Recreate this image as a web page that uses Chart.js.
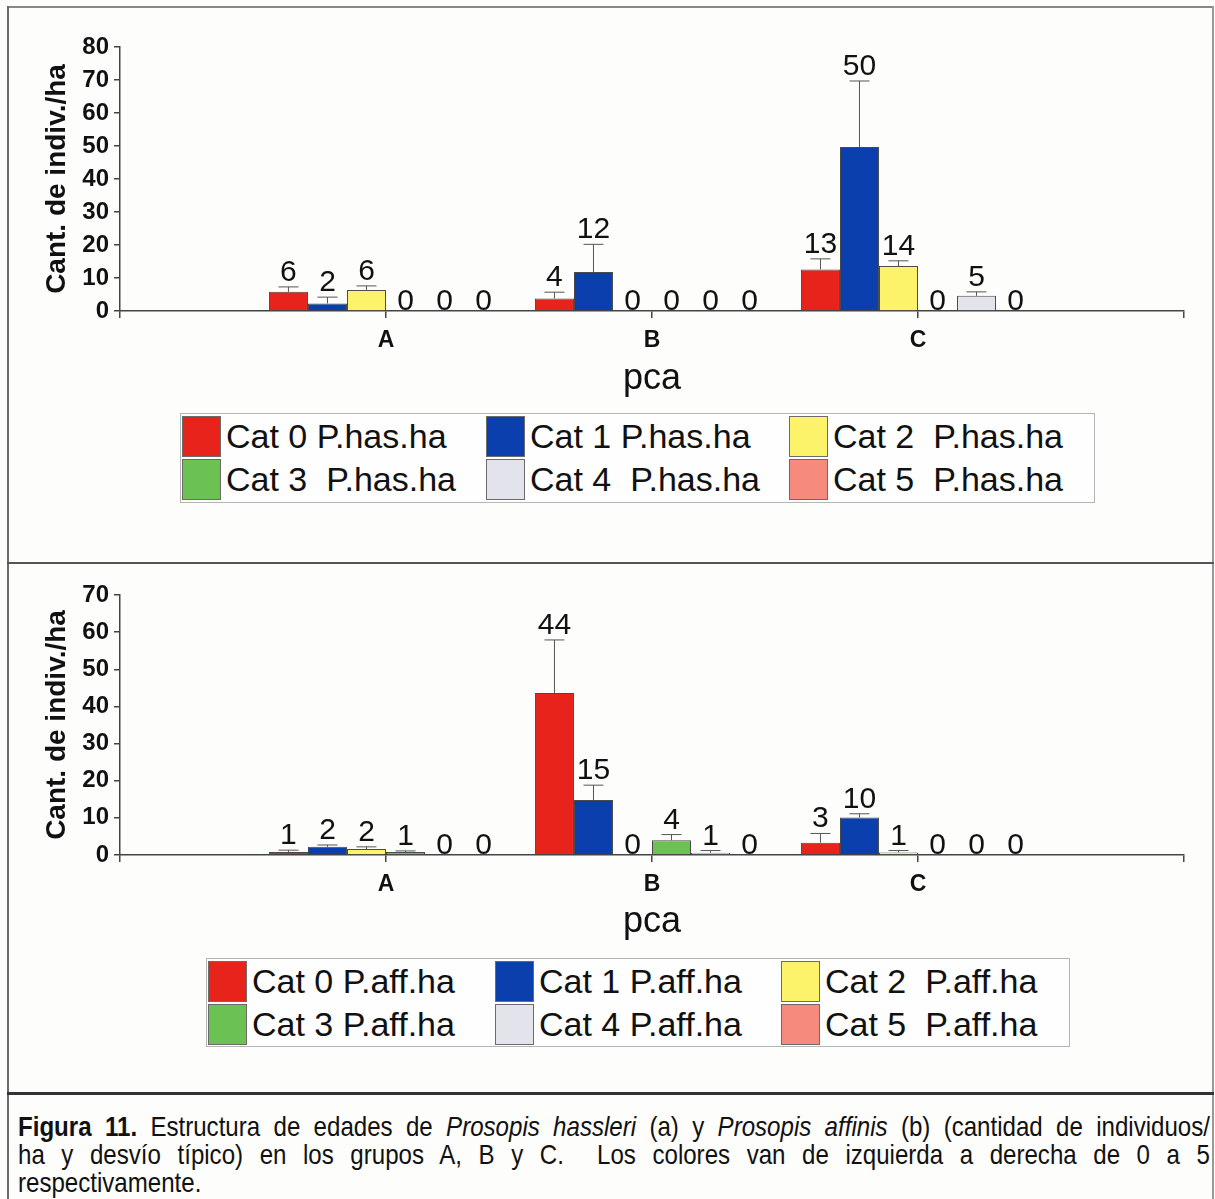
<!DOCTYPE html>
<html lang="es">
<head>
<meta charset="utf-8">
<title>Figura 11</title>
<script src="https://cdn.jsdelivr.net/npm/chart.js@4.4.1/dist/chart.umd.min.js"></script>
<style>
  body { margin: 0; background: #fdfdfb; }
  #figura { position: relative; width: 1215px; height: 1199px; overflow: hidden; font-family: "Liberation Sans", Arial, sans-serif; color: #111; }
  .linea { position: absolute; background: #6a6a6a; }
  canvas { position: absolute; left: 0; }
  .leyenda { position: absolute; border: 1px solid #b5b5b5; box-sizing: border-box; background: #fefefe; }
  .item { position: absolute; height: 41px; display: flex; align-items: center; font-size: 34px; white-space: pre; }
  .muestra { width: 39px; height: 41px; box-sizing: border-box; border: 1px solid #6b6b6b; margin-right: 5px; }
  #pie { position: absolute; left: 18px; top: 1113px; width: 1386px; transform: scaleX(0.86); transform-origin: 0 0; font-size: 28px; }
  .renglon { height: 28px; line-height: 28px; text-align: justify; text-align-last: justify; white-space: nowrap; }
  .renglon.ultimo { text-align-last: left; }
</style>
</head>
<body>
<div id="figura">
  <div class="linea" style="left:7px; top:6px; width:1207px; height:2px; background:#888;"></div>
  <div class="linea" style="left:7px; top:6px; width:2px; height:1193px;"></div>
  <div class="linea" style="left:1212px; top:6px; width:2px; height:1193px; background:#999;"></div>
  <div class="linea" style="left:7px; top:562px; width:1207px; height:2px; background:#555;"></div>
  <div class="linea" style="left:7px; top:1092px; width:1207px; height:3px; background:#333;"></div>

  <canvas id="graficoHas" width="1215" height="400" style="top:10px;"></canvas>
  <div class="leyenda" id="leyendaHas" style="left:180px; top:413px; width:915px; height:90px;"></div>

  <canvas id="graficoAff" width="1215" height="380" style="top:570px;"></canvas>
  <div class="leyenda" id="leyendaAff" style="left:206px; top:958px; width:864px; height:89px;"></div>

  <div id="pie">
    <div class="renglon"><b>Figura 11.</b> Estructura de edades de <i>Prosopis hassleri</i> (a) y <i>Prosopis affinis</i> (b) (cantidad de individuos/</div>
    <div class="renglon">ha y desvío típico) en los grupos A, B y C.&nbsp; Los colores van de izquierda a derecha de 0 a 5</div>
    <div class="renglon ultimo">respectivamente.</div>
  </div>
</div>

<script>
const grupos = ["", "A", "B", "C", ""];
const colores = ["#e8231b", "#0c3fae", "#fdf36a", "#6cc153", "#e3e3eb", "#f68a7c"];

const seriesHas = ["Cat 0 P.has.ha", "Cat 1 P.has.ha", "Cat 2  P.has.ha", "Cat 3  P.has.ha", "Cat 4  P.has.ha", "Cat 5  P.has.ha"];
const seriesAff = ["Cat 0 P.aff.ha", "Cat 1 P.aff.ha", "Cat 2  P.aff.ha", "Cat 3 P.aff.ha", "Cat 4 P.aff.ha", "Cat 5  P.aff.ha"];

// P. hassleri: media por grupo (cat 0 a 5) y desvio tipico
const hasA = [5.8, 2.3, 6.4, 0, 0, 0];
const hasB = [3.8, 11.8, 0, 0, 0, 0];
const hasC = [12.6, 49.7, 13.6, 0, 4.6, 0];
const hasDesvA = [1.5, 1.9, 1.2, 0, 0, 0];
const hasDesvB = [1.9, 8.4, 0, 0, 0, 0];
const hasDesvC = [3.2, 20, 1.6, 0, 1.2, 0];

// P. affinis
const affA = [0.8, 2.2, 1.6, 0.8, 0, 0];
const affB = [43.6, 14.8, 0, 4.0, 0.6, 0];
const affC = [3.3, 10.1, 0.7, 0, 0, 0];
const affDesvA = [0.5, 0.5, 0.6, 0.3, 0, 0];
const affDesvB = [14.3, 4.0, 0, 1.5, 0.6, 0];
const affDesvC = [2.5, 1.0, 0.5, 0, 0, 0];

const ejeHas = [0, 80, 10]; // min, max, paso
const ejeAff = [0, 70, 10];

const fuente = "'Liberation Sans', Arial, sans-serif";

const barrasError = {
  id: "barrasError",
  afterDatasetsDraw: function (chart) {
    const ctx = chart.ctx;
    const escalaY = chart.scales.y;
    ctx.save();
    chart.data.datasets.forEach(function (ds, i) {
      const meta = chart.getDatasetMeta(i);
      meta.data.forEach(function (barra, j) {
        const valor = ds.data[j];
        if (valor === null) return;
        const desvio = ds.desvio[j];
        const yTope = escalaY.getPixelForValue(valor + desvio);
        let separacion = 1;
        if (desvio > 0) {
          ctx.strokeStyle = "#555";
          ctx.lineWidth = 1;
          ctx.beginPath();
          ctx.moveTo(barra.x, barra.y);
          ctx.lineTo(barra.x, yTope);
          ctx.moveTo(barra.x - 10, yTope);
          ctx.lineTo(barra.x + 10, yTope);
          ctx.stroke();
          separacion = 6;
        }
        ctx.fillStyle = "#111";
        ctx.font = "30px " + fuente;
        ctx.textAlign = "center";
        ctx.textBaseline = "alphabetic";
        ctx.fillText(String(Math.round(valor)), barra.x, yTope - separacion);
      });
    });
    ctx.restore();
  }
};

function armarDatasets(series, a, b, c, desvA, desvB, desvC) {
  return series.map(function (nombre, i) {
    return {
      label: nombre,
      data: [null, a[i], b[i], c[i], null],
      desvio: [0, desvA[i], desvB[i], desvC[i], 0],
      backgroundColor: colores[i],
      borderColor: "#4a4a4a",
      borderWidth: 1,
      barPercentage: 1,
      categoryPercentage: 0.88
    };
  });
}

function crearGrafico(idCanvas, datasets, eje, margenArriba, altoEjeX, margenPca) {
  new Chart(document.getElementById(idCanvas), {
    type: "bar",
    plugins: [barrasError],
    data: { labels: grupos, datasets: datasets },
    options: {
      responsive: false,
      animation: false,
      layout: { padding: { top: margenArriba, right: 31, left: 0, bottom: 0 } },
      plugins: { legend: { display: false }, tooltip: { enabled: false } },
      scales: {
        x: {
          type: "category",
          offset: false,
          grid: { offset: false, drawOnChartArea: false, drawTicks: true, tickLength: 7, color: "#444", lineWidth: 1.5 },
          border: { display: true, color: "#444", width: 1.5 },
          ticks: { color: "#111", font: { family: fuente, size: 23, weight: "bold" }, padding: 9, maxRotation: 0, autoSkip: false },
          title: { display: true, text: "pca", color: "#111", font: { family: fuente, size: 36 }, padding: { top: 0, bottom: margenPca } },
          afterFit: function (escala) { escala.height = altoEjeX; }
        },
        y: {
          min: eje[0],
          max: eje[1],
          ticks: { stepSize: eje[2], color: "#111", font: { family: fuente, size: 24, weight: "bold" }, padding: 5 },
          grid: { drawOnChartArea: false, tickLength: 6, color: "#444", lineWidth: 1.5 },
          border: { display: true, color: "#444", width: 1.5 },
          title: { display: true, text: "Cant. de indiv./ha", color: "#111", font: { family: fuente, size: 28, weight: "bold" }, padding: { top: 40, bottom: 0 } },
          afterFit: function (escala) { escala.width = 120; }
        }
      }
    }
  });
}

function crearLeyenda(idCaja, series, columnas) {
  const caja = document.getElementById(idCaja);
  series.forEach(function (nombre, i) {
    const item = document.createElement("div");
    item.className = "item";
    item.style.left = columnas[i % 3] + "px";
    item.style.top = (i < 3 ? 2 : 45) + "px";
    const muestra = document.createElement("div");
    muestra.className = "muestra";
    muestra.style.background = colores[i];
    const texto = document.createElement("span");
    texto.textContent = nombre;
    item.appendChild(muestra);
    item.appendChild(texto);
    caja.appendChild(item);
  });
}

crearGrafico("graficoHas", armarDatasets(seriesHas, hasA, hasB, hasC, hasDesvA, hasDesvB, hasDesvC), ejeHas, 37, 99, 9);
crearGrafico("graficoAff", armarDatasets(seriesAff, affA, affB, affC, affDesvA, affDesvB, affDesvC), ejeAff, 25, 95, 6);

crearLeyenda("leyendaHas", seriesHas, [1, 305, 608]);
crearLeyenda("leyendaAff", seriesAff, [1, 288, 574]);
</script>
</body>
</html>
